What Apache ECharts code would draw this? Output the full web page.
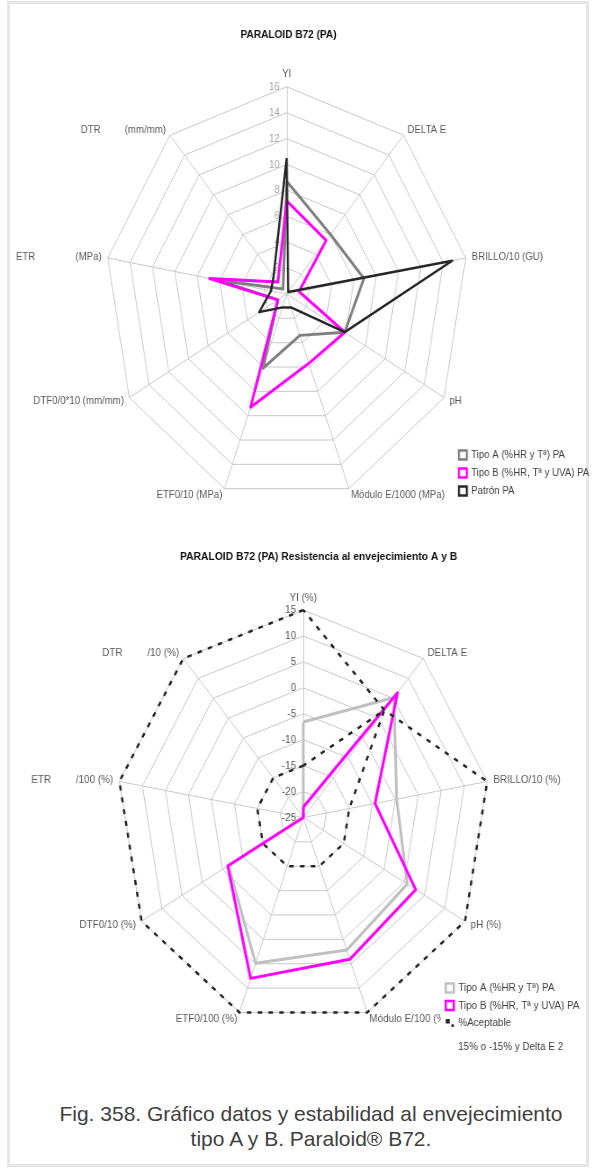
<!DOCTYPE html>
<html>
<head>
<meta charset="utf-8">
<script src="https://cdn.jsdelivr.net/npm/echarts@6/dist/echarts.min.js"></script>
<style>
  html, body { margin: 0; padding: 0; background: #fff; }
  body { width: 596px; height: 1173px; position: relative; overflow: hidden;
         font-family: 'Liberation Sans', Arial, sans-serif; }
  #frame { position: absolute; left: 7px; top: 1px; width: 576px; height: 1160px;
           border: 3px solid #e6e6e6; }
  /* the two radar plots are drawn slightly condensed horizontally */
  #chartTop { position: absolute; left: 0; top: 0; width: 680px; height: 520px;
              transform: scaleX(0.877); transform-origin: 0 0; }
  #chartBottom { position: absolute; left: 0; top: 520px; width: 662px; height: 545px;
                 transform: scaleX(0.9); transform-origin: 0 0; }
  #caption { position: absolute; left: 26px; top: 1101px; width: 570px; text-align: center;
             font-size: 21px; line-height: 25px; color: #404040; }
</style>
</head>
<body>
<div id="frame"></div>
<div id="chartTop"></div>
<div id="chartBottom"></div>
<div id="caption">Fig. 358. Gráfico datos y estabilidad al envejecimiento<br>tipo A y B. Paraloid® B72.</div>
<script>
const FONT = "'Liberation Sans', Arial, sans-serif";
const NB = '\u00a0';

// ---- Upper plot: measured properties ----
const topAxes = ['YI', 'DELTA E', 'BRILLO/10 (GU)', 'pH', 'Módulo E/1000 (MPa)', 'ETF0/10 (MPa)',
  'DTF0/0*10 (mm/mm)', 'ETR' + NB.repeat(15) + '(MPa)', 'DTR' + NB.repeat(9) + '(mm/mm)'];
const topTipoA  = [8.7, 6.0, 6.9, 5.9, 3.4, 6.1, 0.9, 6.2, 0.5];
const topTipoB  = [7.2, 5.4, 1.1, 5.9, 5.7, 9.3, 0.9, 6.9, 1.2];
const topPatron = [10.5, 0.2, 14.8, 5.9, 1.1, 1.1, 2.8, 1.4, 1.8];
const topScale  = { min: 0, max: 16, splits: 8 };
const topSeriesNames = ['Tipo A (%HR y Tª) PA', 'Tipo B (%HR, Tª y UVA) PA', 'Patrón PA'];

// ---- Lower plot: ageing resistance (% change) ----
const botAxes = ['YI (%)', 'DELTA E', 'BRILLO/10 (%)', 'pH (%)', 'Módulo E/100 (%)', 'ETF0/100 (%)',
  'DTF0/10 (%)', 'ETR' + NB.repeat(9) + '/100 (%)', 'DTR' + NB.repeat(9) + '/10 (%)'];
const botTipoA = [-6.6, 5.2, -4.7, 0.7, 2.2, 4.9, -6.5, -25, -25];
const botTipoB = [-23, 6.4, -9.4, 2.8, 4.1, 8.0, -6.3, -25, -25];
const botAceptableUpper = [15, 2, 15, 15, 15, 15, 15, 15, 15];
const botAceptableLower = [-15, 2, -15, -15, -15, -15, -15, -15, -15];
const botScale = { min: -25, max: 15, splits: 8 };
const botSeriesNames = ['Tipo A (%HR y Tª) PA', 'Tipo B (%HR, Tª y UVA) PA', '%Aceptable'];
const botNote = '15% o -15% y Delta E 2';

// ECharts lays radar indicators out counter-clockwise; the plot reads clockwise.
const ORDER = [0, 8, 7, 6, 5, 4, 3, 2, 1];
const cw = arr => ORDER.map(i => arr[i]);

function indicators(names, scale, labelOpt) {
  return cw(names).map((n, i) => {
    const ind = { name: n, min: scale.min, max: scale.max };
    if (i === 0) ind.axisLabel = labelOpt;
    return ind;
  });
}

function radarBase(center, radius, names, scale, labelOpt) {
  return {
    center: center, radius: radius, startAngle: 90, splitNumber: scale.splits, shape: 'polygon',
    nameGap: 7,
    axisName: { color: '#595959', fontSize: 11, fontFamily: FONT },
    splitLine: { lineStyle: { color: '#c8c8c8', width: 1 } },
    splitArea: { show: false },
    axisLine: { lineStyle: { color: '#c8c8c8', width: 1 } },
    axisTick: { show: false },
    axisLabel: { show: false },
    indicator: indicators(names, scale, labelOpt)
  };
}

function line(name, values, color, width) {
  return {
    type: 'radar', name: name, symbol: 'none', z: 3,
    data: [{ name: name, value: cw(values),
      lineStyle: { color: color, width: width, join: 'round' },
      itemStyle: { color: color } }]
  };
}

// Upper chart
const chartTop = echarts.init(document.getElementById('chartTop'));
chartTop.setOption({
  animation: false,
  title: { text: 'PARALOID B72 (PA)', left: 329, top: 29, padding: 0, textAlign: 'center',
    textStyle: { fontSize: 11.5, fontWeight: 'bold', color: '#111', fontFamily: FONT } },
  legend: {
    orient: 'vertical', left: 522, top: 449, padding: 0, itemWidth: 9, itemHeight: 9, itemGap: 6,
    selectedMode: false,
    textStyle: { fontSize: 11, color: '#404040', fontFamily: FONT, lineHeight: 12 },
    data: [
      { name: topSeriesNames[0], icon: 'rect', itemStyle: { color: '#fff', borderColor: '#7f7f7f', borderWidth: 2.5 } },
      { name: topSeriesNames[1], icon: 'rect', itemStyle: { color: '#fff', borderColor: '#ff00ff', borderWidth: 2.5 } },
      { name: topSeriesNames[2], icon: 'rect', itemStyle: { color: '#fff', borderColor: '#262626', borderWidth: 2.5 } }
    ]
  },
  radar: radarBase([326.9, 294], 207.2, topAxes, topScale,
    { show: true, color: '#a6a6a6', fontSize: 11, fontFamily: FONT,
      formatter: v => (v === topScale.min ? '' : String(v)) }),
  series: [
    line(topSeriesNames[0], topTipoA, '#7f7f7f', 3),
    line(topSeriesNames[1], topTipoB, '#ff00ff', 3),
    line(topSeriesNames[2], topPatron, '#262626', 2.5)
  ]
});

// Lower chart
const chartBottom = echarts.init(document.getElementById('chartBottom'));
chartBottom.setOption({
  animation: false,
  title: [
    { text: 'PARALOID B72 (PA) Resistencia al envejecimiento A y B', left: 354, top: 31, padding: 0,
      textAlign: 'center',
      textStyle: { fontSize: 11.5, fontWeight: 'bold', color: '#111', fontFamily: FONT } },
    { text: botNote, left: 509, top: 521, padding: 0,
      textStyle: { fontSize: 11, fontWeight: 'normal', color: '#404040', fontFamily: FONT } }
  ],
  legend: {
    orient: 'vertical', left: 490, top: 459, padding: [3, 4, 3, 4], itemWidth: 9, itemHeight: 9,
    itemGap: 5.5, selectedMode: false, backgroundColor: '#fff', z: 10,
    textStyle: { fontSize: 11, color: '#404040', fontFamily: FONT, lineHeight: 12 },
    data: [
      { name: botSeriesNames[0], icon: 'rect', itemStyle: { color: '#fff', borderColor: '#c0c0c0', borderWidth: 2.5 } },
      { name: botSeriesNames[1], icon: 'rect', itemStyle: { color: '#fff', borderColor: '#ff00ff', borderWidth: 2.5 } },
      { name: botSeriesNames[2], icon: 'path://M0,0H5V5H0Z M7,6H10V9H7Z',
        itemStyle: { color: '#262626', borderWidth: 0 } }
    ]
  },
  radar: radarBase([337, 297.5], 207.5, botAxes, botScale,
    { show: true, color: '#595959', fontSize: 11, fontFamily: FONT }),
  series: [
    line(botSeriesNames[0], botTipoA, '#c0c0c0', 3),
    line(botSeriesNames[1], botTipoB, '#ff00ff', 3),
    {
      type: 'radar', name: botSeriesNames[2], symbol: 'none', z: 4,
      data: [botAceptableUpper, botAceptableLower].map(v => ({
        name: botSeriesNames[2], value: cw(v),
        lineStyle: { color: '#262626', width: 2.5, type: [5, 7], cap: 'butt' },
        itemStyle: { color: '#262626' }
      }))
    }
  ]
});
</script>
</body>
</html>
